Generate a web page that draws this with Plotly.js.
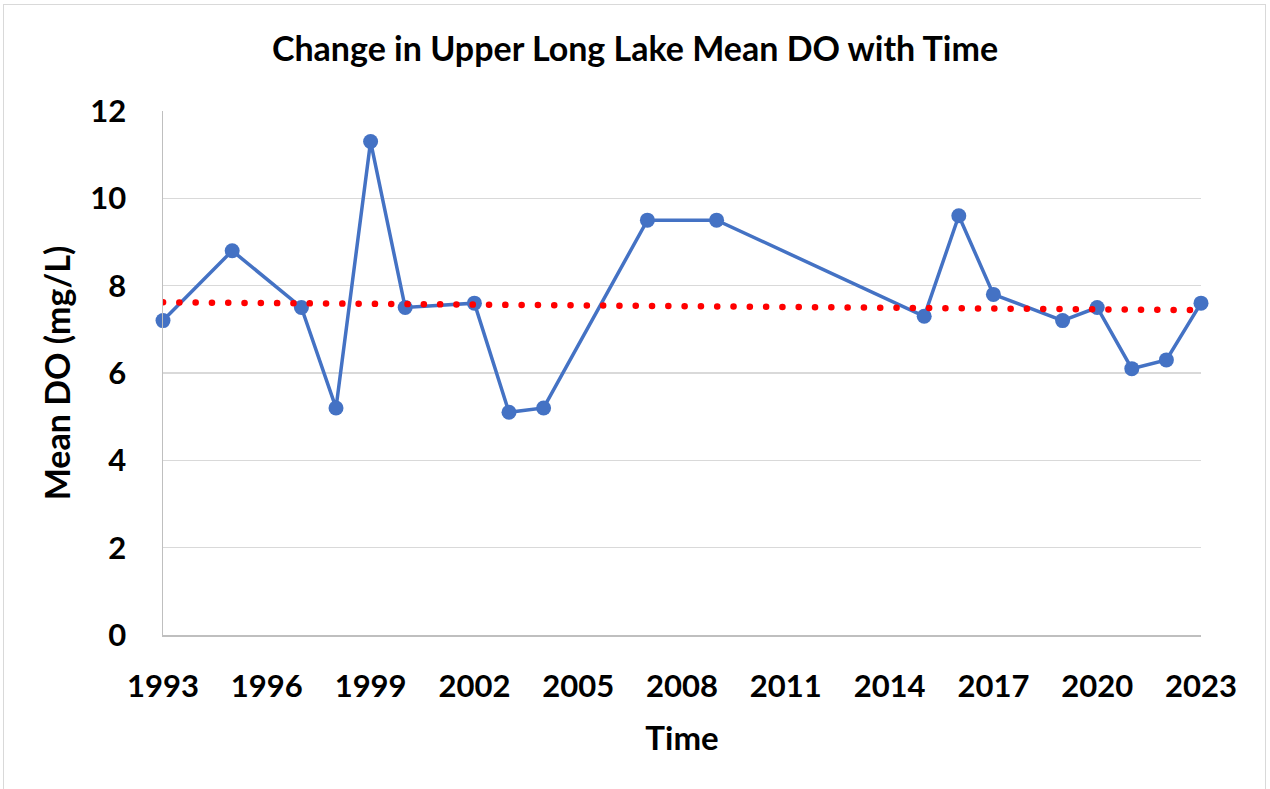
<!DOCTYPE html>
<html>
<head>
<meta charset="utf-8">
<script src="https://cdn.plot.ly/plotly-3.0.1.min.js"></script>
<style>
  html, body { margin: 0; padding: 0; background: #ffffff; }
  #frame { position: absolute; left: 3px; top: 4px; width: 1263px; height: 790px; border: 1.5px solid #d9d9d9; box-sizing: border-box; }
  #chart { position: absolute; left: 0; top: 0; width: 1270px; height: 789px; }
</style>
</head>
<body>
<div id="frame"></div>
<div id="chart"></div>
<script>
// Data
const years = [1993, 1995, 1997, 1998, 1999, 2000, 2002, 2003, 2004, 2007, 2009, 2015, 2016, 2017, 2019, 2020, 2021, 2022, 2023];
const meanDO = [7.2, 8.8, 7.5, 5.2, 11.3, 7.5, 7.6, 5.1, 5.2, 9.5, 9.5, 7.3, 9.6, 7.8, 7.2, 7.5, 6.1, 6.3, 7.6];
// Linear trend line end points (as drawn in the reference)
const trendYears = [1993, 2023];
const trendDO = [7.62, 7.44];
const xTicks = [1993, 1996, 1999, 2002, 2005, 2008, 2011, 2014, 2017, 2020, 2023];
const yTicks = [0, 2, 4, 6, 8, 10, 12];

const FONT = 'Lato, "Open Sans", sans-serif';

const traces = [
  {
    x: years, y: meanDO, type: 'scatter', mode: 'lines+markers',
    line: { color: '#4472C4', width: 3.5 },
    marker: { color: '#4472C4', size: 15 },
    cliponaxis: false, showlegend: false, hoverinfo: 'x+y'
  },
  {
    x: trendYears, y: trendDO, type: 'scatter', mode: 'lines',
    line: { color: '#FF0000', width: 6.5, dash: '0.1px,16.2px' },
    cliponaxis: false, showlegend: false, hoverinfo: 'skip'
  }
];

const layout = {
  width: 1270, height: 789,
  paper_bgcolor: 'rgba(0,0,0,0)', plot_bgcolor: '#ffffff',
  margin: { l: 163, r: 69, t: 111, b: 154, pad: 0 },
  title: {
    text: '<b>Change in Upper Long Lake Mean DO with Time</b>',
    font: { family: FONT, size: 34, color: '#000000' },
    x: 0.5, xanchor: 'center', y: 0.938, yanchor: 'middle'
  },
  xaxis: {
    range: [1993, 2023], tickmode: 'array', tickvals: xTicks,
    ticktext: xTicks.map(String),
    showgrid: false, zeroline: false,
    showline: true, linecolor: '#bfbfbf', linewidth: 1.5,
    ticks: 'outside', ticklen: 0, tickcolor: 'rgba(0,0,0,0)',
    ticklabelstandoff: 23,
    tickfont: { family: FONT, size: 31, color: '#000000', weight: 'bold' },
    title: { text: '<b>Time</b>', font: { family: FONT, size: 33, color: '#000000' }, standoff: 24 }
  },
  yaxis: {
    range: [0, 12], tickmode: 'array', tickvals: yTicks,
    ticktext: yTicks.map(String),
    showgrid: true, gridcolor: '#d9d9d9', gridwidth: 1.5,
    zeroline: false,
    showline: true, linecolor: '#bfbfbf', linewidth: 1.5,
    ticks: 'outside', ticklen: 0, tickcolor: 'rgba(0,0,0,0)',
    ticklabelstandoff: 29,
    tickfont: { family: FONT, size: 31, color: '#000000', weight: 'bold' },
    title: { text: '<b>Mean DO (mg/L)</b>', font: { family: FONT, size: 34, color: '#000000' }, standoff: 9 }
  }
};

Plotly.newPlot('chart', traces, layout, { staticPlot: true, displayModeBar: false }).then(function (gd) {
  const paths = gd.querySelectorAll('.scatterlayer .trace path.js-line');
  if (paths.length > 1) {
    paths[1].style.strokeLinecap = 'round';
  }
});
</script>
</body>
</html>
